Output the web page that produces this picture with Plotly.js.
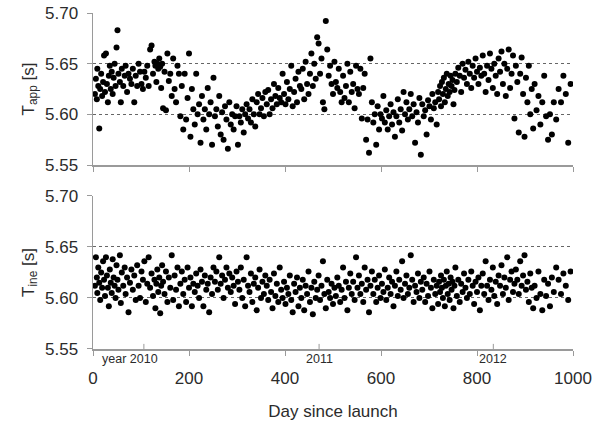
<!DOCTYPE html>
<html>
<head>
<meta charset="utf-8">
<script src="https://cdn.plot.ly/plotly-3.0.1.min.js"></script>
<style>html,body{margin:0;padding:0;background:#fff;}#chart{width:597px;height:421px;}</style>
</head>
<body>
<div id="chart"></div>
<script>
// Observation days (day since launch)
const days = [
  4,6,8,9,11,13,15,17,19,21,23,25,
  27,29,31,33,35,37,39,41,43,45,47,49,
  51,53,56,58,60,63,66,68,71,74,77,80,
  83,86,89,92,95,98,101,104,107,110,113,116,
  119,122,125,128,130,132,134,136,138,140,142,144,
  146,149,152,155,158,161,164,167,170,173,176,179,
  182,185,188,191,194,197,200,203,206,209,212,215,
  218,221,224,227,230,233,236,239,242,245,248,251,
  254,257,260,263,266,269,272,275,278,281,284,287,
  290,293,296,299,302,305,308,311,314,317,320,323,
  326,329,332,335,338,341,344,347,350,353,356,359,
  362,365,368,371,374,377,380,383,386,389,392,395,
  398,401,404,407,410,413,416,419,422,425,428,431,
  434,437,440,443,446,449,452,455,458,461,464,467,
  470,473,476,479,482,485,488,491,494,497,500,503,
  506,509,512,515,518,521,524,527,530,533,536,539,
  542,545,548,551,554,557,560,563,566,569,572,575,
  578,581,584,587,590,593,596,599,602,605,608,611,
  614,617,620,623,626,629,632,635,638,641,644,647,
  650,653,656,659,662,665,668,671,674,677,680,683,
  686,689,692,695,698,701,704,707,710,713,716,719,
  721,723,725,727,729,731,733,735,737,739,741,743,
  745,747,749,751,753,755,758,761,764,767,770,773,
  776,779,782,785,788,791,794,797,800,803,806,809,
  812,815,818,821,824,827,830,833,836,839,842,845,
  848,851,854,857,860,863,866,869,872,875,878,881,
  884,887,890,893,896,899,902,905,908,911,914,917,
  920,924,928,932,936,940,944,948,952,956,960,965,
  970,975,980,985,990,995
];

// Apparent period T_app [s]
const tApp = [
  5.620,5.635,5.615,5.645,5.628,5.586,5.625,5.640,5.618,5.632,5.658,5.622,
  5.660,5.630,5.612,5.638,5.648,5.625,5.642,5.620,5.636,5.650,5.628,5.666,
  5.683,5.640,5.632,5.612,5.645,5.628,5.638,5.648,5.622,5.640,5.635,5.630,
  5.645,5.612,5.638,5.628,5.650,5.642,5.630,5.625,5.642,5.636,5.648,5.628,
  5.664,5.668,5.640,5.652,5.648,5.632,5.650,5.645,5.655,5.647,5.626,5.650,
  5.606,5.642,5.604,5.660,5.633,5.640,5.618,5.655,5.625,5.612,5.648,5.640,
  5.598,5.628,5.585,5.640,5.595,5.616,5.660,5.578,5.625,5.605,5.590,5.640,
  5.600,5.610,5.572,5.618,5.595,5.605,5.585,5.626,5.600,5.612,5.570,5.636,
  5.598,5.605,5.588,5.618,5.580,5.602,5.575,5.608,5.595,5.566,5.612,5.590,
  5.600,5.585,5.598,5.608,5.570,5.598,5.592,5.605,5.582,5.600,5.610,5.596,
  5.605,5.592,5.615,5.600,5.588,5.612,5.620,5.600,5.606,5.616,5.598,5.622,
  5.610,5.624,5.600,5.615,5.606,5.630,5.618,5.610,5.626,5.616,5.612,5.640,
  5.620,5.610,5.632,5.615,5.625,5.648,5.608,5.622,5.635,5.612,5.642,5.628,
  5.625,5.645,5.615,5.652,5.630,5.620,5.640,5.660,5.628,5.650,5.635,5.676,
  5.670,5.640,5.655,5.612,5.605,5.692,5.664,5.638,5.648,5.630,5.620,5.652,
  5.632,5.626,5.645,5.622,5.612,5.638,5.616,5.628,5.650,5.612,5.642,5.622,
  5.630,5.606,5.648,5.625,5.620,5.645,5.596,5.626,5.640,5.575,5.595,5.562,
  5.655,5.612,5.592,5.600,5.570,5.608,5.585,5.600,5.596,5.618,5.592,5.604,
  5.585,5.598,5.610,5.590,5.602,5.578,5.598,5.615,5.592,5.605,5.584,5.622,
  5.600,5.612,5.595,5.605,5.620,5.598,5.610,5.572,5.602,5.592,5.616,5.560,
  5.610,5.598,5.604,5.580,5.614,5.608,5.595,5.620,5.606,5.612,5.590,5.622,
  5.615,5.628,5.608,5.632,5.620,5.636,5.612,5.625,5.640,5.618,5.630,5.622,
  5.638,5.628,5.634,5.610,5.624,5.640,5.632,5.646,5.638,5.622,5.650,5.636,
  5.644,5.630,5.652,5.640,5.626,5.648,5.636,5.655,5.642,5.630,5.646,5.638,
  5.658,5.640,5.622,5.648,5.634,5.660,5.645,5.626,5.650,5.638,5.620,5.655,
  5.642,5.662,5.630,5.650,5.618,5.645,5.664,5.626,5.640,5.658,5.596,5.648,
  5.632,5.582,5.640,5.656,5.620,5.578,5.636,5.612,5.648,5.600,5.625,5.586,
  5.630,5.604,5.618,5.590,5.612,5.638,5.598,5.575,5.600,5.580,5.612,5.595,
  5.625,5.612,5.638,5.620,5.572,5.630
];

// Inertial period T_ine [s]
const tIne = [
  5.612,5.640,5.620,5.605,5.630,5.615,5.598,5.625,5.610,5.636,5.618,5.602,
  5.640,5.622,5.610,5.592,5.628,5.615,5.605,5.638,5.620,5.612,5.600,5.632,
  5.618,5.608,5.642,5.595,5.625,5.612,5.630,5.604,5.620,5.586,5.615,5.628,
  5.608,5.622,5.598,5.632,5.612,5.600,5.626,5.618,5.636,5.596,5.614,5.640,
  5.610,5.624,5.602,5.618,5.590,5.614,5.628,5.606,5.620,5.585,5.612,5.632,
  5.616,5.604,5.626,5.596,5.620,5.610,5.642,5.598,5.622,5.608,5.630,5.592,
  5.614,5.626,5.604,5.618,5.596,5.630,5.610,5.620,5.592,5.614,5.606,5.624,
  5.612,5.600,5.628,5.616,5.592,5.622,5.608,5.614,5.586,5.620,5.604,5.630,
  5.616,5.626,5.608,5.640,5.614,5.622,5.600,5.618,5.630,5.610,5.624,5.606,
  5.620,5.612,5.594,5.626,5.616,5.608,5.630,5.600,5.618,5.592,5.640,5.612,
  5.606,5.624,5.596,5.614,5.620,5.588,5.610,5.628,5.600,5.616,5.604,5.622,
  5.612,5.598,5.618,5.606,5.590,5.624,5.602,5.614,5.596,5.630,5.608,5.600,
  5.616,5.594,5.610,5.604,5.622,5.598,5.586,5.614,5.606,5.620,5.592,5.610,
  5.600,5.618,5.588,5.612,5.604,5.626,5.596,5.610,5.584,5.616,5.600,5.608,
  5.622,5.598,5.612,5.636,5.604,5.590,5.618,5.606,5.600,5.614,5.594,5.610,
  5.602,5.620,5.612,5.596,5.608,5.630,5.600,5.616,5.588,5.610,5.624,5.604,
  5.616,5.598,5.640,5.610,5.622,5.604,5.614,5.596,5.630,5.608,5.618,5.586,
  5.612,5.626,5.604,5.618,5.596,5.610,5.622,5.600,5.614,5.606,5.628,5.598,
  5.610,5.620,5.604,5.616,5.592,5.612,5.626,5.602,5.618,5.608,5.636,5.600,
  5.614,5.622,5.604,5.610,5.642,5.618,5.596,5.612,5.606,5.624,5.600,5.616,
  5.608,5.620,5.596,5.614,5.602,5.626,5.610,5.590,5.618,5.604,5.612,5.594,
  5.616,5.606,5.622,5.610,5.600,5.618,5.592,5.612,5.626,5.604,5.614,5.598,
  5.620,5.608,5.616,5.590,5.612,5.630,5.602,5.618,5.596,5.614,5.606,5.624,
  5.610,5.600,5.618,5.604,5.626,5.612,5.594,5.616,5.606,5.620,5.588,5.612,
  5.624,5.604,5.636,5.612,5.598,5.618,5.608,5.630,5.602,5.616,5.594,5.622,
  5.612,5.632,5.604,5.620,5.610,5.640,5.598,5.618,5.626,5.606,5.614,5.628,
  5.618,5.604,5.636,5.612,5.622,5.642,5.608,5.616,5.596,5.624,5.610,5.590,
  5.612,5.600,5.626,5.604,5.588,5.618,5.602,5.614,5.592,5.620,5.606,5.630,
  5.618,5.604,5.624,5.612,5.598,5.626
];

const yTicks = [5.55, 5.60, 5.65, 5.70];
const xTicks = [0, 200, 400, 600, 800, 1000];
const yearDays = [106, 471, 834];
const yearLabels = ['year 2010', '2011', '2012'];

const FONT = 'Liberation Sans, Arial, sans-serif';
const TXT = '#2b2b2b';
const AX = '#9a9a9a';

const marker = {color: '#000', size: 6};
const traces = [
  {x: days, y: tApp, type: 'scatter', mode: 'markers', marker: marker, xaxis: 'x', yaxis: 'y', hoverinfo: 'x+y'},
  {x: days, y: tIne, type: 'scatter', mode: 'markers', marker: marker, xaxis: 'x2', yaxis: 'y2', hoverinfo: 'x+y'}
];

function yAxis(domain, title, anchor) {
  return {
    domain: domain, range: [5.55, 5.70], anchor: anchor,
    tickvals: yTicks, ticktext: yTicks.map(v => v.toFixed(2)),
    ticks: 'outside', ticklen: 5, tickwidth: 1, tickcolor: AX,
    ticklabelstandoff: 5,
    showline: true, linecolor: AX, linewidth: 1.5,
    showgrid: true, gridcolor: '#666', griddash: 'dot', gridwidth: 1,
    zeroline: false, tickfont: {family: FONT, size: 17, color: TXT},
    title: {text: title, font: {family: FONT, size: 17, color: TXT}, standoff: 6}
  };
}
function xAxis(showLabels, anchor) {
  return {
    range: [0, 1000], anchor: anchor,
    tickvals: xTicks, ticktext: xTicks.map(String), showticklabels: showLabels,
    ticks: 'outside', ticklen: 5, tickwidth: 1, tickcolor: AX,
    ticklabelstandoff: 8,
    showline: true, linecolor: AX, linewidth: 1.5,
    showgrid: false, zeroline: false,
    tickfont: {family: FONT, size: 17, color: TXT}
  };
}

const xa1 = xAxis(false, 'y');
const xa2 = xAxis(true, 'y2');
xa2.matches = 'x';
xa2.title = {text: 'Day since launch', font: {family: FONT, size: 17, color: TXT}, standoff: 18};

const shapes = yearDays.map(d => ({
  type: 'line', xref: 'x2', yref: 'y2', x0: d, x1: d, y0: 5.55, y1: 5.555,
  line: {color: AX, width: 1}
}));
const annotations = yearDays.map((d, i) => ({
  xref: 'x2', yref: 'y2', x: d, y: 5.55, yanchor: 'top',
  xanchor: i === 0 ? 'right' : 'center', xshift: i === 0 ? 16 : 0, yshift: -1,
  text: yearLabels[i], showarrow: false,
  font: {family: FONT, size: 12.5, color: TXT}
}));

const layout = {
  width: 597, height: 421,
  margin: {l: 93, r: 24, t: 13, b: 72},
  paper_bgcolor: '#fff', plot_bgcolor: '#fff',
  showlegend: false,
  font: {family: FONT, color: TXT},
  xaxis: xa1,
  yaxis: yAxis([0.5476, 1], 'T<sub>app</sub> [s]', 'x'),
  xaxis2: xa2,
  yaxis2: yAxis([0, 0.4554], 'T<sub>ine</sub> [s]', 'x2'),
  shapes: shapes,
  annotations: annotations
};

Plotly.newPlot('chart', traces, layout, {displayModeBar: false, staticPlot: true});
</script>
</body>
</html>
